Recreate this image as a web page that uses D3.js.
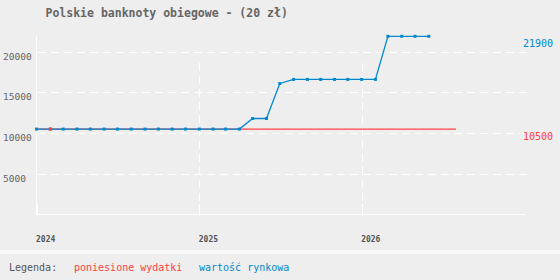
<!DOCTYPE html>
<html>
<head>
<meta charset="utf-8">
<script src="https://cdn.jsdelivr.net/npm/d3@7"></script>
<style>
  body { margin: 0; background: #eeeeee; }
  text { font-family: "DejaVu Sans Mono", monospace; }
</style>
</head>
<body>
<script>
'use strict';

// monthly market value of the 20 zł notes
const months = d3.range(0, 30).map(i => new Date(2024, i, 1));
const marketValue = [
  10500, 10500, 10500, 10500, 10500, 10500, 10500, 10500, 10500, 10500, 10500, 10500,
  10500, 10500, 10500, 10500, 11800, 11800, 16100, 16600, 16600, 16600, 16600, 16600,
  16600, 16600, 21900, 21900, 21900, 21900
];
// incurred costs
const costDates = [new Date(2024, 0, 1), new Date(2024, 1, 1), new Date(2026, 7, 1)];
const costValues = [10500, 10500, 10500];
const costMarks = [new Date(2024, 1, 1)];

const yTicks = [5000, 10000, 15000, 20000];
const xTicks = [new Date(2024, 0, 1), new Date(2025, 0, 1), new Date(2026, 0, 1)];

const title = 'Polskie banknoty obiegowe - (20 zł)';
const blue = '#0088cc';
const red = '#ff4040';

const svg = d3.select('body').append('svg')
  .attr('width', 560)
  .attr('height', 280);

svg.append('rect').attr('width', 560).attr('height', 280).attr('fill', '#eeeeee');

let x = d3.scaleTime()
  .domain([new Date(2024, 0, 1), new Date(2027, 0, 1)])
  .range([36.5, 524]);
let y = d3.scaleLinear()
  .domain([0, 21900])
  .range([214.5, 36.3]);

// title
svg.append('text')
  .attr('x', 45.5).attr('y', 16.5)
  .style('font-size', '11.5px').style('font-weight', 'bold')
  .attr('fill', '#666')
  .text(title);

// horizontal grid
svg.selectAll('.hgrid').data(yTicks).enter().append('line')
  .attr('x1', 38).attr('x2', 527)
  .attr('y1', d => Math.round(y(d)) + 0.5).attr('y2', d => Math.round(y(d)) + 0.5)
  .attr('stroke', '#fff').attr('stroke-dasharray', '8,5');

// vertical grid
svg.selectAll('.vgrid').data(xTicks.slice(1)).enter().append('line')
  .attr('x1', d => Math.round(x(d)) + 0.5).attr('x2', d => Math.round(x(d)) + 0.5)
  .attr('y1', 63).attr('y2', 217)
  .attr('stroke', '#fff').attr('stroke-dasharray', '8,5');

// axes
svg.append('line').attr('x1', 36.5).attr('x2', 36.5).attr('y1', 36).attr('y2', 215)
  .attr('stroke', '#fff');
svg.append('line').attr('x1', 36).attr('x2', 525).attr('y1', 214.5).attr('y2', 214.5)
  .attr('stroke', '#fff');
svg.selectAll('.xtick').data(xTicks).enter().append('line')
  .attr('x1', d => Math.round(x(d)) + 0.5).attr('x2', d => Math.round(x(d)) + 0.5)
  .attr('y1', 204).attr('y2', 216.5)
  .attr('stroke', '#fff');

// tick labels
svg.selectAll('.ylab').data(yTicks).enter().append('text')
  .attr('x', 3).attr('y', d => y(d) + 8)
  .style('font-size', '9.5px').attr('fill', '#666')
  .text(d => d);
svg.selectAll('.xlab').data(xTicks).enter().append('text')
  .attr('x', d => x(d) - 0.5).attr('y', 242)
  .style('font-size', '8px').style('font-weight', 'bold').attr('fill', '#555')
  .text(d => d.getFullYear());

// costs line
let costLine = d3.line().x((d, i) => x(costDates[i])).y(d => y(d));
svg.append('path').datum(costValues)
  .attr('d', costLine)
  .attr('fill', 'none').attr('stroke', red).attr('stroke-width', 1.2);

// market value line
let valLine = d3.line().x((d, i) => x(months[i])).y(d => y(d));
svg.append('path').datum(marketValue)
  .attr('d', valLine)
  .attr('fill', 'none').attr('stroke', blue).attr('stroke-width', 1.3);
svg.selectAll('.vdot').data(marketValue).enter().append('rect')
  .attr('x', (d, i) => x(months[i]) - 1.5).attr('y', d => y(d) - 1.5)
  .attr('width', 3).attr('height', 3).attr('fill', blue);
svg.selectAll('.cdot').data(costMarks).enter().append('rect')
  .attr('x', d => x(d) - 1.5).attr('y', y(costValues[1]) - 1.5)
  .attr('width', 3).attr('height', 3).attr('fill', red);

// end labels
svg.append('text')
  .attr('x', 553).attr('y', y(marketValue[marketValue.length - 1]) + 11)
  .attr('text-anchor', 'end').style('font-size', '10px').attr('fill', blue)
  .text(marketValue[marketValue.length - 1]);
svg.append('text')
  .attr('x', 553).attr('y', y(costValues[costValues.length - 1]) + 10.5)
  .attr('text-anchor', 'end').style('font-size', '10px').attr('fill', red)
  .text(costValues[costValues.length - 1]);

// footer legend
svg.append('rect').attr('x', 0).attr('y', 250).attr('width', 560).attr('height', 4)
  .attr('fill', '#f8f8f8');
svg.append('text').attr('x', 9).attr('y', 271)
  .style('font-size', '10px').attr('fill', '#555').text('Legenda:');
svg.append('text').attr('x', 74).attr('y', 271)
  .style('font-size', '10px').attr('fill', red).text('poniesione wydatki');
svg.append('text').attr('x', 199).attr('y', 271)
  .style('font-size', '10px').attr('fill', blue).text('wartość rynkowa');
</script>
</body>
</html>
